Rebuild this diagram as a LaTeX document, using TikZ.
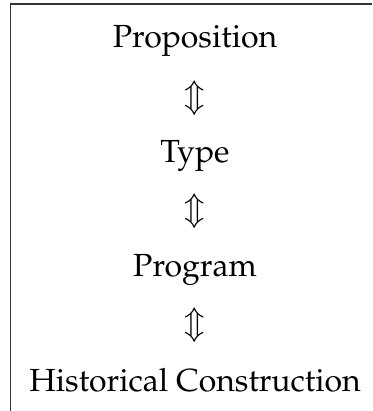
\documentclass[tikz,border=0pt]{standalone}
\usepackage[T1]{fontenc}
\usepackage{mathpazo}
\tikzset{
	lbl/.style={anchor=base,inner sep=0pt,font=\fontsize{24}{28}\selectfont},
	iff/.style={inner sep=0pt,font=\fontsize{24}{28}\selectfont}
}
\begin{document}
\begin{tikzpicture}[x=0.75pt,y=-0.75pt]
		\useasboundingbox (0,0) rectangle (372,411);
		\draw[line width=1.1pt,color=black!80] (10.5,411) -- (10.5,4) -- (372,4);
		\node[lbl] (prop) at (195,47.5) {Proposition};
		\node[lbl] (type) at (195,162) {Type};
		\node[lbl] (prog) at (195,276.5) {Program};
		\node[lbl] (hist) at (195,391) {Historical Construction};
		\node[iff] (i1) at (195,98) {$\Updownarrow$};
		\node[iff] (i2) at (195,211) {$\Updownarrow$};
		\node[iff] (i3) at (195,325) {$\Updownarrow$};
	\end{tikzpicture}
\end{document}
